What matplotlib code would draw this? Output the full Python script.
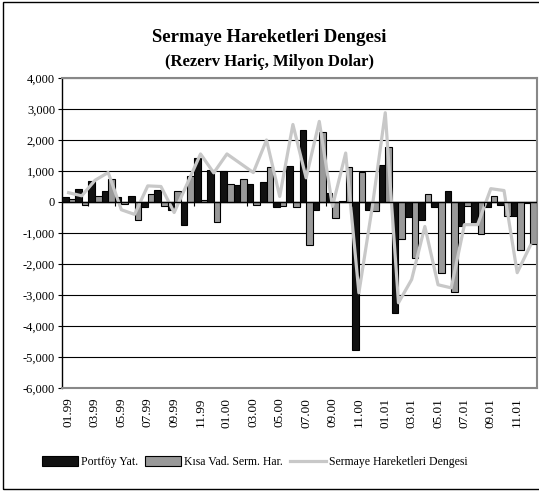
import numpy as np
import matplotlib
matplotlib.use("Agg")
import matplotlib.pyplot as plt
from matplotlib.patches import Rectangle

plt.rcParams['font.family'] = ['Liberation Serif', 'DejaVu Serif']

# monthly, 01.99 - 12.01, million USD
months = [f"{m:02d}.{y:02d}" for y in (99, 0, 1) for m in range(1, 13)]

portfoy = [150, 430, 670, 340, 150, 200, -150, 400, -270, -740, 1420, 1040,
           990, 560, 580, 650, -170, 1160, 2320, -270, 300, 30, -4790, -270,
           1190, -3570, -480, -590, -160, 350, -780, -700, -150, -100, -450, -30]

kisa_vad = [110, -100, 180, 740, -50, -580, 260, -140, 370, 850, 50, -630,
            590, 730, -100, 1120, -140, -170, -1400, 2270, -520, 1140, 970, -300,
            1780, -1200, -1800, 250, -2300, -2890, -120, -1030, 200, -450, -1550, -1370]

denge = [300, 200, 700, 950, -250, -400, 520, 500, -340, 600, 1550, 940,
         1550, 1250, 950, 2000, 180, 2500, 780, 2600, -140, 1580, -2930, -200,
         2880, -3250, -2500, -790, -2670, -2770, -730, -730, 430, 370, -2280, -1400]

x = np.arange(len(months))

fig = plt.figure(figsize=(5.39, 4.91), dpi=100)
ax = fig.add_axes([62 / 539, 1 - 388 / 491, 475 / 539, 310 / 491])

b1 = ax.bar(x - 0.25, portfoy, width=0.5, color="#111111", edgecolor="black",
            linewidth=0.8, label="Portföy Yat.", zorder=3)
b2 = ax.bar(x + 0.25, kisa_vad, width=0.5, color="#999999", edgecolor="black",
            linewidth=0.8, label="Kısa Vad. Serm. Har.", zorder=3)
l1, = ax.plot(x, denge, color="#c8c8c8", linewidth=2.3,
              label="Sermaye Hareketleri Dengesi", zorder=4)

ax.set_xlim(-0.5, len(months) - 0.5)
ax.set_ylim(-6000, 4000)
ax.set_yticks(np.arange(-6000, 4001, 1000))
ax.set_yticklabels([f"{v:,}" for v in range(-6000, 4001, 1000)], fontsize=9)
ax.yaxis.grid(True, color="black", linewidth=0.8, zorder=0)
ax.set_axisbelow(True)
ax.axhline(0, color="black", linewidth=1.0, zorder=5)
# category ticks on the zero line
ax.vlines(np.arange(1.5, len(months), 2), -130, 0, color="black", linewidth=0.8, zorder=5)

ax.set_xticks(x[::2])
ax.set_xticklabels(months[::2], rotation=90, fontsize=9.5)
ax.tick_params(axis="x", length=0, pad=7)
ax.tick_params(axis="y", length=3, pad=2)

for side in ("top", "right", "bottom"):
    ax.spines[side].set_color("#888888")
    ax.spines[side].set_linewidth(1.5)
ax.spines["left"].set_color("black")
ax.spines["left"].set_linewidth(1.0)

fig.text(0.5, 1 - 38 / 491, "Sermaye Hareketleri Dengesi", ha="center", va="center",
         fontsize=13.5, fontweight="bold")
fig.text(0.5, 1 - 62 / 491, "(Rezerv Hariç, Milyon Dolar)", ha="center", va="center",
         fontsize=12, fontweight="bold")

fig.legend(handles=[b1, b2, l1], loc="center", bbox_to_anchor=(255 / 539, 1 - 462 / 491),
           ncol=3, frameon=False, fontsize=8.5, handlelength=3.0, handleheight=0.9,
           columnspacing=0.6, handletextpad=0.3)

fig.patches.append(Rectangle((3 / 539, 2 / 491), 1.0, 487 / 491, transform=fig.transFigure,
                             fill=False, edgecolor="black", linewidth=1.0))

fig.savefig("out.png", dpi=100)
